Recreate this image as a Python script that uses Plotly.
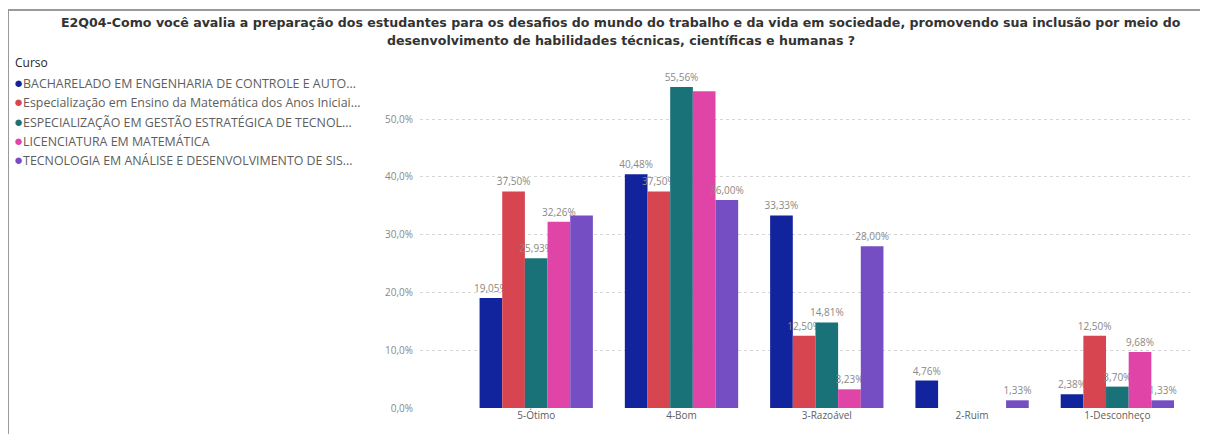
import plotly.graph_objects as go

# Categories (answer options) and courses
categories = ["5-Ótimo", "4-Bom", "3-Razoável", "2-Ruim", "1-Desconheço"]

courses = [
    "BACHARELADO EM ENGENHARIA DE CONTROLE E AUTO...",
    "Especialização em Ensino da Matemática dos Anos Iniciai...",
    "ESPECIALIZAÇÃO EM GESTÃO ESTRATÉGICA DE TECNOL...",
    "LICENCIATURA EM MATEMÁTICA",
    "TECNOLOGIA EM ANÁLISE E DESENVOLVIMENTO DE SIS...",
]

# Percentages per course, in the order of categories (None = no bar)
bacharelado = [19.05, 40.48, 33.33, 4.76, 2.38]
especializacao_mat = [37.50, 37.50, 12.50, None, 12.50]
especializacao_gestao = [25.93, 55.56, 14.81, None, 3.70]
licenciatura = [32.26, 54.84, 3.23, None, 9.68]
tecnologia = [33.33, 36.00, 28.00, 1.33, 1.33]

# Which data labels Power BI showed (overlapping ones were hidden)
label_shown = [
    [True, True, True, True, True],
    [True, True, True, False, True],
    [True, True, True, False, True],
    [True, False, True, False, True],
    [False, True, True, True, True],
]

y_ticks = [0, 10, 20, 30, 40, 50]

colors = ["#12239E", "#D64550", "#197278", "#E044A7", "#744EC2"]

title_lines = [
    "E2Q04-Como você avalia a preparação dos estudantes para os desafios do mundo do "
    "trabalho e da vida em sociedade, promovendo sua inclusão por meio do",
    "desenvolvimento de habilidades técnicas, científicas e humanas ?",
]

# the page body adds an 8px margin, so screen positions are offset by OFF
OFF = 8
W, H = 1208, 434
ML = 420 - OFF
MT = 73 - OFF
MR = W - (1190 - OFF)
MB = H - (408 - OFF)
PW, PH = W - ML - MR, H - MT - MB


def px_x(sx):
    return (sx - OFF - ML) / PW


def px_y(sy):
    return (H - MB - (sy - OFF)) / PH


def fmt(v, d=2):
    return f"{v:.{d}f}%".replace(".", ",")


fig = go.Figure()
series = [bacharelado, especializacao_mat, especializacao_gestao, licenciatura, tecnologia]
for name, values, color, shown in zip(courses, series, colors, label_shown):
    texts = [fmt(v) if (v is not None and s) else "" for v, s in zip(values, shown)]
    fig.add_trace(
        go.Bar(
            x=categories,
            y=values,
            name=name,
            marker=dict(color=color, line=dict(width=0)),
            text=texts,
            textposition="outside",
            textangle=0,
            constraintext="none",
            cliponaxis=False,
            textfont=dict(family="Open Sans", size=10, color="#8a8886"),
            showlegend=False,
        )
    )

# Manual legend, Power BI style
legend_font = dict(family="Open Sans", size=12.4, color="#605E5C")
fig.add_annotation(
    x=px_x(13), y=px_y(62), xref="paper", yref="paper",
    text="Curso", showarrow=False, xanchor="left", yanchor="middle",
    font=dict(family="Open Sans", size=12, color="#252423"),
)
for i, (name, color) in enumerate(zip(courses, colors)):
    fig.add_annotation(
        x=px_x(13), y=px_y(82 + i * 19.3), xref="paper", yref="paper",
        text=f"<span style='color:{color};font-size:15px'>●</span>{name}",
        showarrow=False, xanchor="left", yanchor="middle", font=legend_font,
        borderpad=0,
    )

# Title, two centred lines
for line, sy in zip(title_lines, [22, 41]):
    fig.add_annotation(
        x=px_x(621), y=px_y(sy), xref="paper", yref="paper",
        text=line, showarrow=False, xanchor="center", yanchor="middle",
        font=dict(family="DejaVu Sans", size=12.6, color="#333333", weight="bold"),
    )

# Visual frame (top and left border)
fig.add_shape(type="line", xref="paper", yref="paper", x0=px_x(8), x1=px_x(W + OFF),
              y0=px_y(10), y1=px_y(10), line=dict(color="#9a9a9a", width=2))
fig.add_shape(type="line", xref="paper", yref="paper", x0=px_x(8), x1=px_x(8),
              y0=px_y(10), y1=px_y(H + OFF), line=dict(color="#9a9a9a", width=2))

fig.update_layout(
    width=W,
    height=H,
    margin=dict(l=ML, r=MR, t=MT, b=MB, autoexpand=False),
    paper_bgcolor="white",
    plot_bgcolor="white",
    barmode="group",
    bargap=0.22,
    bargroupgap=0,
    font=dict(family="Open Sans", color="#605E5C"),
)

fig.update_xaxes(
    range=[-0.8, 4.5],
    automargin=False,
    showgrid=False,
    showline=False,
    ticks="",
    tickfont=dict(family="Open Sans", size=10, color="#605E5C"),
)
fig.update_yaxes(
    range=[0, 58],
    automargin=False,
    tickvals=y_ticks,
    ticktext=[fmt(t, 1) for t in y_ticks],
    showgrid=True,
    gridcolor="#d6d6d6",
    griddash="dot",
    gridwidth=1,
    zeroline=False,
    showline=False,
    ticks="",
    ticklabelstandoff=6,
    tickfont=dict(family="Open Sans", size=10, color="#8a8886"),
)

fig.write_html("out.html")
